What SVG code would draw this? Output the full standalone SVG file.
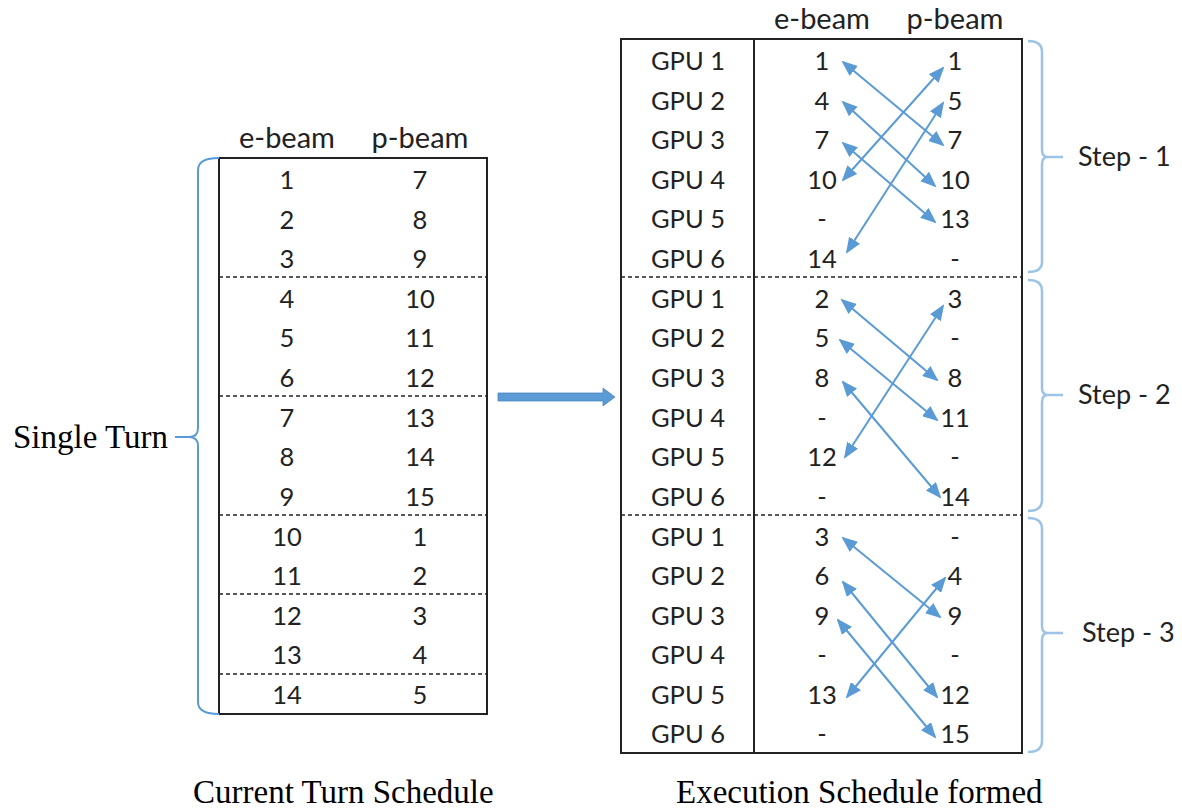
<svg xmlns="http://www.w3.org/2000/svg" width="1182" height="808" viewBox="0 0 1182 808">
<defs>
<marker id="ah" viewBox="0 0 16 13" refX="14" refY="6.5" markerWidth="16" markerHeight="13" markerUnits="userSpaceOnUse" orient="auto-start-reverse">
<path d="M0,0 L16,6.5 L0,13 z" fill="#5b9bd5"/>
</marker>
</defs>
<style>
.t{font-family:Lato,"Open Sans",sans-serif;font-size:25.5px;fill:#222;text-anchor:middle}
.h{font-family:Lato,"Open Sans",sans-serif;font-size:29px;fill:#222;text-anchor:middle}
.s{font-family:Lato,"Open Sans",sans-serif;font-size:27px;fill:#222}
.r{font-family:"Liberation Serif",serif;font-size:33px;fill:#000}
.box{fill:none;stroke:#222;stroke-width:2}
.dot{stroke:#222;stroke-width:1.5;stroke-dasharray:4,3}
.br{fill:none;stroke:#5b9bd5;stroke-width:2}
.br2{fill:none;stroke:#9dc3e6;stroke-width:2.5}
.a{stroke:#5b9bd5;stroke-width:2;marker-start:url(#ah);marker-end:url(#ah)}
</style>
<rect width="1182" height="808" fill="#fff"/>

<g id="left-table">
<text class="h" x="287" y="148">e-beam</text>
<text class="h" x="420" y="148">p-beam</text>
<rect class="box" x="219" y="158" width="268" height="556"/>
<line class="dot" x1="219" y1="277" x2="487" y2="277"/>
<line class="dot" x1="219" y1="396" x2="487" y2="396"/>
<line class="dot" x1="219" y1="515" x2="487" y2="515"/>
<line class="dot" x1="219" y1="594" x2="487" y2="594"/>
<line class="dot" x1="219" y1="674" x2="487" y2="674"/>
<g class="t">
<text x="287" y="189">1</text><text x="420" y="189">7</text>
<text x="287" y="229">2</text><text x="420" y="229">8</text>
<text x="287" y="268">3</text><text x="420" y="268">9</text>
<text x="287" y="308">4</text><text x="420" y="308">10</text>
<text x="287" y="347">5</text><text x="420" y="347">11</text>
<text x="287" y="387">6</text><text x="420" y="387">12</text>
<text x="287" y="427">7</text><text x="420" y="427">13</text>
<text x="287" y="466">8</text><text x="420" y="466">14</text>
<text x="287" y="506">9</text><text x="420" y="506">15</text>
<text x="287" y="546">10</text><text x="420" y="546">1</text>
<text x="287" y="585">11</text><text x="420" y="585">2</text>
<text x="287" y="625">12</text><text x="420" y="625">3</text>
<text x="287" y="664">13</text><text x="420" y="664">4</text>
<text x="287" y="704">14</text><text x="420" y="704">5</text>
</g>
</g>

<g id="single-turn-brace">
<path class="br" d="M219,158 Q198,158 198,170 L198,428 Q198,437 189,437 Q198,437 198,446 L198,702 Q198,714 219,714"/>
<line class="br" x1="175" y1="437" x2="189" y2="437"/>
<text class="r" x="168" y="448" text-anchor="end" font-size="34.5">Single Turn</text>
</g>

<g id="big-arrow">
<path d="M498,393 L603,393 L603,388 L615,397 L603,406 L603,401 L498,401 z" fill="#5b9bd5" stroke="#4a86c0" stroke-width="0.8"/>
</g>

<g id="right-table">
<text class="h" x="822" y="29">e-beam</text>
<text class="h" x="955" y="29">p-beam</text>
<rect class="box" x="621" y="39" width="401" height="714"/>
<line class="box" x1="754" y1="39" x2="754" y2="753"/>
<line class="dot" x1="621" y1="277" x2="1022" y2="277"/>
<line class="dot" x1="621" y1="515" x2="1022" y2="515"/>
<g class="t">
<text x="688" y="70">GPU 1</text><text x="822" y="70">1</text><text x="955" y="70">1</text>
<text x="688" y="110">GPU 2</text><text x="822" y="110">4</text><text x="955" y="110">5</text>
<text x="688" y="149">GPU 3</text><text x="822" y="149">7</text><text x="955" y="149">7</text>
<text x="688" y="189">GPU 4</text><text x="822" y="189">10</text><text x="955" y="189">10</text>
<text x="688" y="228">GPU 5</text><text x="822" y="228">-</text><text x="955" y="228">13</text>
<text x="688" y="268">GPU 6</text><text x="822" y="268">14</text><text x="955" y="268">-</text>
<text x="688" y="308">GPU 1</text><text x="822" y="308">2</text><text x="955" y="308">3</text>
<text x="688" y="347">GPU 2</text><text x="822" y="347">5</text><text x="955" y="347">-</text>
<text x="688" y="387">GPU 3</text><text x="822" y="387">8</text><text x="955" y="387">8</text>
<text x="688" y="427">GPU 4</text><text x="822" y="427">-</text><text x="955" y="427">11</text>
<text x="688" y="466">GPU 5</text><text x="822" y="466">12</text><text x="955" y="466">-</text>
<text x="688" y="506">GPU 6</text><text x="822" y="506">-</text><text x="955" y="506">14</text>
<text x="688" y="546">GPU 1</text><text x="822" y="546">3</text><text x="955" y="546">-</text>
<text x="688" y="585">GPU 2</text><text x="822" y="585">6</text><text x="955" y="585">4</text>
<text x="688" y="625">GPU 3</text><text x="822" y="625">9</text><text x="955" y="625">9</text>
<text x="688" y="664">GPU 4</text><text x="822" y="664">-</text><text x="955" y="664">-</text>
<text x="688" y="704">GPU 5</text><text x="822" y="704">13</text><text x="955" y="704">12</text>
<text x="688" y="743">GPU 6</text><text x="822" y="743">-</text><text x="955" y="743">15</text>
</g>
</g>

<g id="connectors">
<line class="a" x1="843" y1="62" x2="943" y2="145"/>
<line class="a" x1="843" y1="102" x2="935" y2="186"/>
<line class="a" x1="843" y1="143" x2="935" y2="222"/>
<line class="a" x1="943" y1="68" x2="843" y2="180"/>
<line class="a" x1="943" y1="103" x2="847" y2="252"/>
<line class="a" x1="842" y1="300" x2="937" y2="380"/>
<line class="a" x1="840" y1="340" x2="937" y2="420"/>
<line class="a" x1="843" y1="382" x2="940" y2="497"/>
<line class="a" x1="943" y1="306" x2="845" y2="457"/>
<line class="a" x1="843" y1="538" x2="940" y2="617"/>
<line class="a" x1="843" y1="582" x2="937" y2="697"/>
<line class="a" x1="838" y1="620" x2="935" y2="737"/>
<line class="a" x1="945" y1="578" x2="847" y2="697"/>
</g>

<g id="step1">
<path class="br2" d="M1028,41 Q1042,41 1042,52 L1042,150 Q1042,157 1048,157 Q1042,157 1042,164 L1042,262 Q1042,272 1028,272"/>
<line class="br2" x1="1048" y1="157" x2="1063" y2="157"/>
<text class="s" x="1078" y="166">Step - 1</text>
</g>
<g id="step2">
<path class="br2" d="M1028,280 Q1042,280 1042,291 L1042,388 Q1042,395 1048,395 Q1042,395 1042,402 L1042,500 Q1042,511 1028,511"/>
<line class="br2" x1="1048" y1="395" x2="1063" y2="395"/>
<text class="s" x="1078" y="404">Step - 2</text>
</g>
<g id="step3">
<path class="br2" d="M1028,518 Q1042,518 1042,529 L1042,626 Q1042,633 1048,633 Q1042,633 1042,640 L1042,741 Q1042,752 1028,752"/>
<line class="br2" x1="1048" y1="633" x2="1063" y2="633"/>
<text class="s" x="1082" y="642">Step - 3</text>
</g>

<g id="captions">
<text class="r" x="193" y="803">Current Turn Schedule</text>
<text class="r" x="676" y="803">Execution Schedule formed</text>
</g>
</svg>
